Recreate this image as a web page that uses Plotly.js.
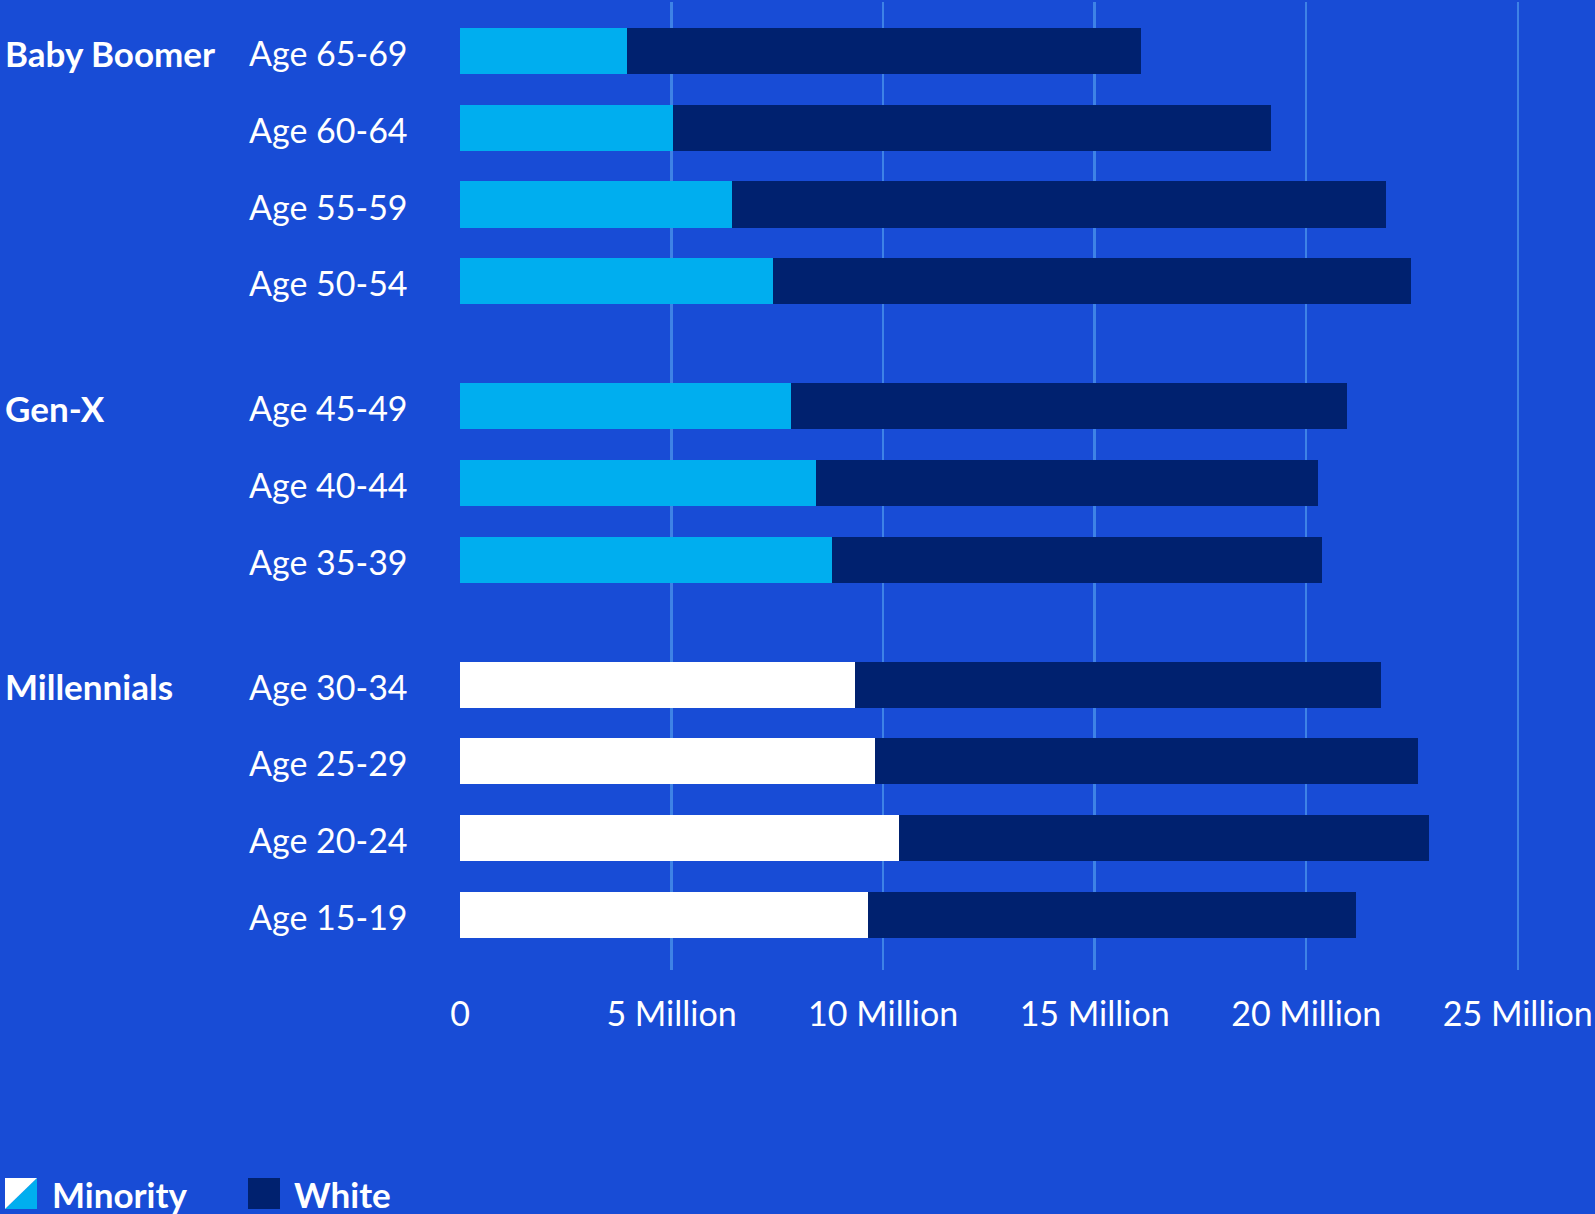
<!DOCTYPE html>
<html>
<head>
<meta charset="utf-8">
<script src="https://cdn.plot.ly/plotly-3.0.1.min.js"></script>
<style>
html,body{margin:0;padding:0;background:#184CD6;}
#chart{width:1595px;height:1214px;}
</style>
</head>
<body>
<div id="chart"></div>
<script>
// ---- data (values in millions) ----
const groupNames = ["Baby Boomer", "Gen-X", "Millennials"];
const groupAges = [
  ["Age 65-69", "Age 60-64", "Age 55-59", "Age 50-54"],
  ["Age 45-49", "Age 40-44", "Age 35-39"],
  ["Age 30-34", "Age 25-29", "Age 20-24", "Age 15-19"]
];
const minority = [3.94, 5.04, 6.44, 7.40, 7.83, 8.41, 8.79, 9.34, 9.80, 10.38, 9.65];
const white    = [12.16, 14.13, 15.45, 15.07, 13.13, 11.87, 11.59, 12.43, 12.84, 12.52, 11.52];
const tickVals = [0, 5, 10, 15, 20, 25];
const tickText = ["0", "5 Million", "10 Million", "15 Million", "20 Million", "25 Million"];
const legendNames = ["Minority", "White"];

// ---- styling ----
const BG = "#184CD6";
const CYAN = "#00AEEF";
const NAVY = "#00216F";
const GRID = "#3E82E6";
const FONT = "Lato, 'Open Sans', sans-serif";
const W = 1595, H = 1214;
const M = {l: 460, r: 73, t: 2, b: 244};
const GAP = 0.63;           // extra slot space between groups
const plotW = W - M.l - M.r, plotH = H - M.t - M.b;

// build positions / labels from group structure
const pos = [], labels = [], minColors = [], groupStartPos = [];
let idx = 0;
groupAges.forEach((ages, g) => {
  ages.forEach((a, k) => {
    const p = idx + g * GAP;
    if (k === 0) groupStartPos.push(p);
    pos.push(p);
    labels.push(a);
    minColors.push(g === 2 ? "#FFFFFF" : CYAN);
    idx++;
  });
});
const lastPos = pos[pos.length - 1];

const px2x = X => (X - M.l) / plotW;
const px2y = Y => (H - M.b - Y) / plotH;

const traces = [
  {type: "bar", orientation: "h", name: legendNames[0], x: minority, y: pos,
   marker: {color: minColors, line: {width: 0}}, width: 0.6, hoverinfo: "x+text", text: labels, textposition: "none"},
  {type: "bar", orientation: "h", name: legendNames[1], x: white, y: pos,
   marker: {color: NAVY, line: {width: 0}}, width: 0.6, hoverinfo: "x+text", text: labels, textposition: "none"}
];

const annotations = [];
pos.forEach((p, i) => {
  annotations.push({xref: "paper", yref: "y", x: px2x(247), y: p + 0.02, xanchor: "left", yanchor: "middle",
    text: labels[i], showarrow: false, font: {family: FONT, size: 34, color: "#FFFFFF"}});
});
groupNames.forEach((gname, g) => {
  annotations.push({xref: "paper", yref: "y", x: px2x(3), y: groupStartPos[g] + 0.02, xanchor: "left", yanchor: "middle",
    text: "<b>" + gname + "</b>", showarrow: false, font: {family: FONT, size: 35, color: "#FFFFFF"}});
});
// legend text
annotations.push({xref: "paper", yref: "paper", x: px2x(50), y: px2y(1194), xanchor: "left", yanchor: "middle",
  text: "<b>" + legendNames[0] + "</b>", showarrow: false, font: {family: FONT, size: 35, color: "#FFFFFF"}});
annotations.push({xref: "paper", yref: "paper", x: px2x(292), y: px2y(1194), xanchor: "left", yanchor: "middle",
  text: "<b>" + legendNames[1] + "</b>", showarrow: false, font: {family: FONT, size: 35, color: "#FFFFFF"}});

// legend swatches
const sx0 = px2x(5), sx1 = px2x(37), sy0 = px2y(1209), sy1 = px2y(1178);
const shapes = [
  {type: "path", xref: "paper", yref: "paper", path: `M ${sx0} ${sy0} L ${sx1} ${sy0} L ${sx1} ${sy1} Z`, fillcolor: CYAN, line: {width: 0}},
  {type: "path", xref: "paper", yref: "paper", path: `M ${sx0} ${sy0} L ${sx0} ${sy1} L ${sx1} ${sy1} Z`, fillcolor: "#FFFFFF", line: {width: 0}},
  {type: "rect", xref: "paper", yref: "paper", x0: px2x(248), x1: px2x(280), y0: sy0, y1: sy1, fillcolor: NAVY, line: {width: 0}}
];

const layout = {
  width: W, height: H,
  margin: M,
  paper_bgcolor: BG, plot_bgcolor: BG,
  barmode: "stack", bargap: 0,
  showlegend: false,
  font: {family: FONT, color: "#FFFFFF"},
  xaxis: {range: [0, 25.1], tickvals: tickVals, ticktext: tickText, showgrid: true, gridcolor: GRID, gridwidth: 2.5,
          zeroline: false, showline: false, ticks: "", ticklabelstandoff: 21, ticklabeloverflow: "allow",
          automargin: false,
          tickfont: {family: FONT, size: 34, color: "#FFFFFF"}, fixedrange: true},
  yaxis: {range: [lastPos + 0.72, -0.64], showgrid: false, zeroline: false, showline: false,
          showticklabels: false, ticks: "", fixedrange: true},
  annotations: annotations,
  shapes: shapes
};

Plotly.newPlot("chart", traces, layout, {displayModeBar: false, staticPlot: true});
</script>
</body>
</html>
